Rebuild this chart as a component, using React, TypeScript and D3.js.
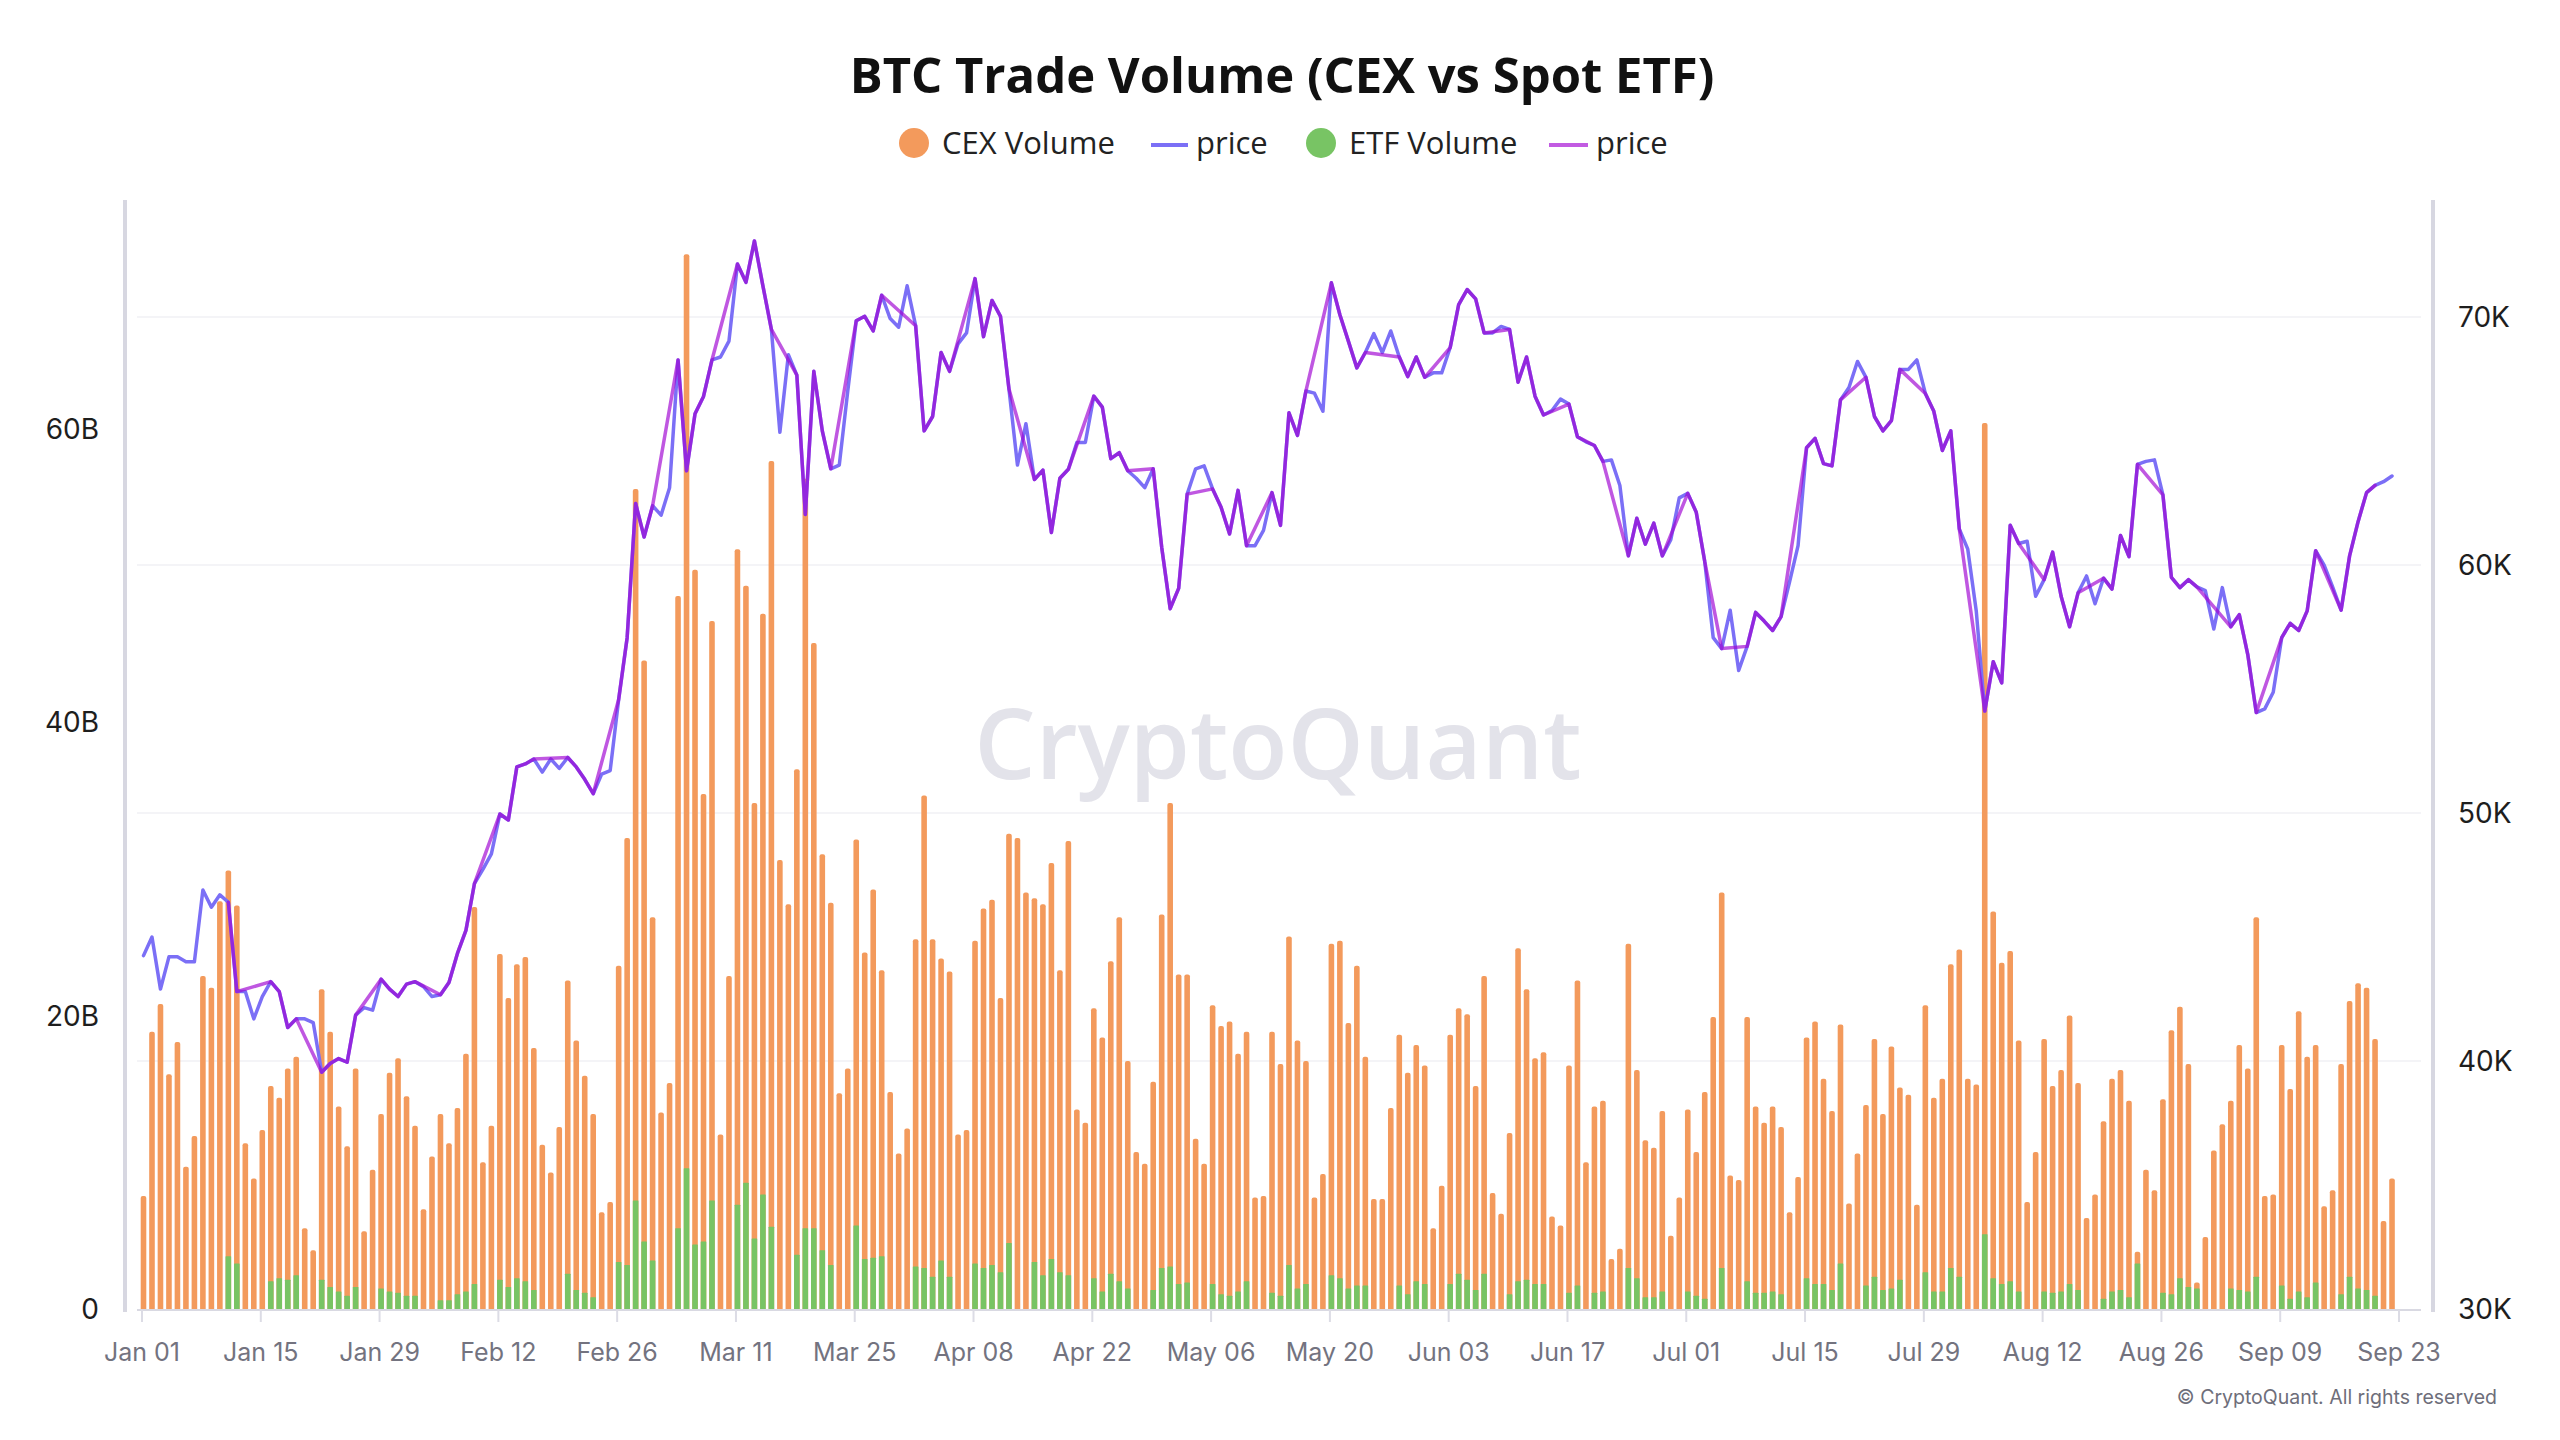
import React from "react";
import * as d3 from "d3";

// ---------- DATA ----------
const START_DATE = "2024-01-01";

// CEX daily trade volume, billions USD (Jan 01 .. Sep 22, 2024)
const cexVolume: number[] = [
  7.7, 18.9, 20.8, 16.0, 18.2, 9.7, 11.8, 22.7, 21.9, 27.8,
  29.9, 27.5, 11.3, 8.9, 12.2, 15.2, 14.4, 16.4, 17.2, 5.5,
  4.0, 21.8, 18.9, 13.8, 11.1, 16.4, 5.3, 9.5, 13.3, 16.1,
  17.1, 14.5, 12.5, 6.8, 10.4, 13.3, 11.3, 13.7, 17.4, 27.4,
  10.0, 12.5, 24.2, 21.2, 23.5, 24.0, 17.8, 11.2, 9.3, 12.4,
  22.4, 18.3, 15.9, 13.3, 6.6, 7.3, 23.4, 32.1, 55.9, 44.2,
  26.7, 13.4, 15.4, 48.6, 71.9, 50.4, 35.1, 46.9, 11.9, 22.7,
  51.8, 49.3, 34.5, 47.4, 57.8, 30.6, 27.6, 36.8, 56.6, 45.4,
  31.0, 27.7, 14.7, 16.4, 32.0, 24.3, 28.6, 23.1, 14.8, 10.6,
  12.3, 25.2, 35.0, 25.2, 23.9, 23.0, 11.9, 12.2, 25.1, 27.3,
  27.9, 21.2, 32.4, 32.1, 28.4, 28.0, 27.6, 30.4, 23.1, 31.9,
  13.6, 12.7, 20.5, 18.5, 23.7, 26.7, 16.9, 10.7, 9.9, 15.5,
  26.9, 34.5, 22.8, 22.8, 11.6, 9.9, 20.7, 19.3, 19.6, 17.4,
  18.9, 7.6, 7.7, 18.9, 16.7, 25.4, 18.3, 16.9, 7.6, 9.2,
  24.9, 25.1, 19.5, 23.4, 17.2, 7.5, 7.5, 13.7, 18.7, 16.1,
  18.0, 16.6, 5.5, 8.4, 18.7, 20.5, 20.1, 15.2, 22.7, 7.9,
  6.5, 12.0, 24.6, 21.8, 17.1, 17.5, 6.3, 5.7, 16.6, 22.4,
  10.0, 13.8, 14.2, 3.4, 4.1, 24.9, 16.3, 11.5, 11.0, 13.5,
  5.0, 7.6, 13.6, 10.7, 14.8, 19.9, 28.4, 9.1, 8.8, 19.9,
  13.8, 12.7, 13.8, 12.4, 6.6, 9.0, 18.5, 19.6, 15.7, 13.5,
  19.4, 7.2, 10.6, 13.9, 18.4, 13.3, 17.9, 15.1, 14.6, 7.1,
  20.7, 14.4, 15.7, 23.5, 24.5, 15.7, 15.3, 60.4, 27.1, 23.6,
  24.4, 18.3, 7.3, 10.7, 18.4, 15.2, 16.3, 20.0, 15.4, 6.2,
  7.8, 12.8, 15.7, 16.3, 14.2, 3.9, 9.5, 8.1, 14.3, 19.0,
  20.6, 16.7, 1.8, 4.9, 10.8, 12.6, 14.2, 18.0, 16.4, 26.7,
  7.7, 7.8, 18.0, 15.0, 20.3, 17.2, 18.0, 7.0, 8.1, 16.7,
  21.0, 22.2, 21.9, 18.4, 6.0, 8.9,
];

// Spot ETF daily volume, billions USD (null = no trading day)
const N = null;
const etfVolume: (number | null)[] = [
  N, N, N, N, N, N, N, N, N, N,
  3.6, 3.1, N, N, N, 1.9, 2.1, 2.0, 2.3, N,
  N, 2.0, 1.5, 1.2, 0.9, 1.5, N, N, 1.4, 1.2,
  1.1, 0.9, 0.9, N, N, 0.6, 0.6, 1.0, 1.2, 1.7,
  N, N, 2.0, 1.5, 2.1, 1.9, 1.3, N, N, N,
  2.4, 1.3, 1.1, 0.8, N, N, 3.2, 3.0, 7.4, 4.6,
  3.3, N, N, 5.5, 9.6, 4.4, 4.6, 7.4, N, N,
  7.1, 8.6, 4.8, 7.8, 5.6, N, N, 3.7, 5.5, 5.5,
  4.0, 3.0, N, N, 5.7, 3.4, 3.5, 3.6, N, N,
  N, 2.9, 2.8, 2.2, 3.3, 2.2, N, N, 3.1, 2.8,
  3.0, 2.5, 4.5, N, N, 3.2, 2.3, 3.4, 2.5, 2.3,
  N, N, 2.1, 1.2, 2.4, 1.9, 1.4, N, N, 1.3,
  2.8, 2.9, 1.7, 1.8, N, N, 1.7, 1.0, 0.9, 1.2,
  1.9, N, N, 1.1, 0.9, 3.0, 1.4, 1.7, N, N,
  2.3, 2.1, 1.4, 1.6, 1.6, N, N, N, 1.6, 1.0,
  1.9, 1.7, N, N, 1.7, 2.4, 2.0, 1.3, 2.4, N,
  N, 1.0, 1.9, 2.0, 1.7, 1.7, N, N, 1.1, 1.6,
  N, 1.1, 1.2, N, N, 2.8, 2.1, 0.8, 0.8, 1.2,
  N, N, 1.2, 0.9, 0.7, N, 2.8, N, N, 1.9,
  1.1, 1.1, 1.2, 1.0, N, N, 2.1, 1.7, 1.7, 1.3,
  3.1, N, N, 1.6, 2.2, 1.3, 1.4, 2.0, N, N,
  2.5, 1.2, 1.2, 2.8, 2.2, N, N, 5.1, 2.1, 1.7,
  1.9, 1.2, N, N, 1.2, 1.1, 1.2, 1.7, 1.3, N,
  N, 0.7, 1.2, 1.3, 0.8, 3.1, N, N, 1.1, 1.0,
  2.1, 1.5, 1.4, N, N, N, 1.4, 1.3, 1.2, 2.2,
  N, N, 1.6, 0.7, 1.2, 0.8, 1.8, N, N, 1.0,
  2.2, 1.4, 1.3, 0.9, N, N,
];

// BTC price, thousands USD (daily)
const btcPrice: number[] = [
  44.25, 45.0, 42.9, 44.2, 44.2, 44.0, 44.0, 46.9, 46.2, 46.7,
  46.4, 42.8, 42.8, 41.7, 42.6, 43.2, 42.8, 41.35, 41.7, 41.7,
  41.55, 39.55, 39.9, 40.1, 39.95, 41.85, 42.15, 42.05, 43.3, 42.9,
  42.6, 43.1, 43.2, 43.0, 42.6, 42.67, 43.17, 44.34, 45.27, 47.15,
  47.73, 48.35, 49.96, 49.72, 51.86, 51.98, 52.18, 51.65, 52.18, 51.8,
  52.24, 51.86, 51.36, 50.78, 51.57, 51.71, 54.58, 57.07, 62.48, 61.13,
  62.39, 62.01, 63.12, 68.27, 63.8, 66.1, 66.8, 68.27, 68.39, 69.03,
  72.14, 71.4, 73.07, 71.26, 69.5, 65.35, 68.48, 67.66, 62.04, 67.81,
  65.41, 63.88, 64.03, 67.02, 69.85, 70.03, 69.44, 70.88, 69.94, 69.59,
  71.26, 69.65, 65.41, 65.99, 68.57, 67.81, 68.92, 69.36, 71.55, 69.21,
  70.67, 70.03, 67.1, 64.03, 65.7, 63.45, 63.83, 61.31, 63.5, 63.86,
  64.94, 64.94, 66.81, 66.37, 64.29, 64.53, 63.8, 63.5, 63.12, 63.88,
  60.72, 58.24, 59.06, 62.86, 63.88, 64.0, 63.07, 62.33, 61.25, 63.01,
  60.78, 60.78, 61.4, 62.92, 61.6, 66.14, 65.23, 67.02, 66.93, 66.2,
  71.38, 70.09, 69.03, 67.95, 68.57, 69.33, 68.57, 69.44, 68.39, 67.6,
  68.39, 67.57, 67.75, 67.75, 68.77, 70.5, 71.11, 70.73, 69.36, 69.36,
  69.62, 69.5, 67.37, 68.39, 66.81, 66.05, 66.23, 66.69, 66.49, 65.17,
  64.97, 64.82, 64.18, 64.24, 63.21, 60.37, 61.89, 60.84, 61.69, 60.37,
  61.02, 62.71, 62.89, 62.13, 60.14, 57.07, 56.63, 58.18, 55.75, 56.72,
  58.09, 57.74, 57.36, 57.92, 59.32, 60.78, 64.73, 65.11, 64.09, 64.0,
  66.66, 67.16, 68.21, 67.57, 65.99, 65.41, 65.82, 67.89, 67.89, 68.27,
  66.92, 66.2, 64.62, 65.41, 61.46, 60.64, 58.15, 54.11, 56.1, 55.25,
  61.6, 60.87, 60.96, 58.74, 59.41, 60.52, 58.74, 57.51, 58.88, 59.56,
  58.44, 59.47, 59.03, 61.19, 60.34, 64.06, 64.18, 64.24, 62.83, 59.5,
  59.09, 59.41, 59.12, 58.97, 57.42, 59.09, 57.51, 58.0, 56.39, 54.05,
  54.2, 54.87, 57.07, 57.65, 57.36, 58.15, 60.58, 60.0, 59.12, 58.18,
  60.37, 61.75, 62.92, 63.21, 63.36, 63.59,
];

const xTickLabels = [
  "Jan 01", "Jan 15", "Jan 29", "Feb 12", "Feb 26", "Mar 11", "Mar 25",
  "Apr 08", "Apr 22", "May 06", "May 20", "Jun 03", "Jun 17", "Jul 01",
  "Jul 15", "Jul 29", "Aug 12", "Aug 26", "Sep 09", "Sep 23",
];
const xTickStepDays = 14;
const leftTicks = [0, 20, 40, 60];
const leftTickLabels = ["0", "20B", "40B", "60B"];
const rightTicks = [30, 40, 50, 60, 70];
const rightTickLabels = ["30K", "40K", "50K", "60K", "70K"];

// ---------- STYLE ----------
const ORANGE = "#f39a5c";
const GREEN = "#78c464";
const BLUE = "#7b6ff6";
const PURPLE = "#a005d3";
const FONT_MAIN = "'Open Sans', 'Noto Sans', sans-serif";
const FONT_AXIS = "Inter, 'Noto Sans', sans-serif";

function barPath(cx: number, yTop: number, yBase: number, w: number, r: number) {
  const x0 = cx - w / 2;
  const x1 = cx + w / 2;
  const rr = Math.max(0, Math.min(r, (yBase - yTop) / 2, w / 2));
  return `M${x0},${yBase}V${yTop + rr}Q${x0},${yTop} ${x0 + rr},${yTop}H${x1 - rr}Q${x1},${yTop} ${x1},${yTop + rr}V${yBase}Z`;
}

export default function App() {
  const W = 2560;
  const H = 1440;
  const plotLeft = 137;
  const plotRight = 2421;
  const plotTop = 200;
  const plotBottom = 1309;

  const start = d3.utcParse("%Y-%m-%d")(START_DATE) as Date;
  const dates = cexVolume.map((_, i) => d3.utcDay.offset(start, i));
  const x = d3
    .scaleUtc()
    .domain([start, d3.utcDay.offset(start, (xTickLabels.length - 1) * xTickStepDays)])
    .range([142, 2399]);
  const yL = d3.scaleLinear().domain([0, 75.6]).range([plotBottom, plotTop]);
  const yR = d3.scaleLinear().domain([30, 74.72]).range([plotBottom, plotTop]);

  const bx = (i: number) => x(dates[i]) + 1.5;
  const barW = 5.6;

  const lineGen = d3
    .line<[number, number]>()
    .x((d) => d[0])
    .y((d) => d[1]);

  const pricePts: [number, number][] = btcPrice.map((p, i) => [bx(i), yR(p)]);
  const etfPts: [number, number][] = btcPrice
    .map((p, i) => (etfVolume[i] != null ? ([bx(i), yR(p)] as [number, number]) : null))
    .filter((d): d is [number, number] => d !== null);

  const tickDates = xTickLabels.map((_, k) => d3.utcDay.offset(start, k * xTickStepDays));

  return (
    <svg
      width={W}
      height={H}
      viewBox={`0 0 ${W} ${H}`}
      style={{ position: "absolute", left: 0, top: 0, background: "#fff" }}
    >
      <rect x={0} y={0} width={W} height={H} fill="#ffffff" />

      {/* Title */}
      <text
        x={1282}
        y={93}
        textAnchor="middle"
        fontFamily={FONT_MAIN}
        fontWeight={700}
        fontSize={49}
        fill="#111"
      >
        BTC Trade Volume (CEX vs Spot ETF)
      </text>

      {/* Legend */}
      <g fontFamily={FONT_MAIN} fontSize={31} fill="#222">
        <circle cx={914} cy={143} r={15} fill={ORANGE} />
        <text x={942} y={154}>CEX Volume</text>
        <line x1={1151} x2={1188} y1={145} y2={145} stroke={BLUE} strokeWidth={4} />
        <text x={1196} y={154}>price</text>
        <circle cx={1321} cy={143} r={15} fill={GREEN} />
        <text x={1349} y={154}>ETF Volume</text>
        <line x1={1549} x2={1588} y1={145} y2={145} stroke="#c25be2" strokeWidth={4} />
        <text x={1596} y={154}>price</text>
      </g>

      {/* Watermark */}
      <text
        x={1278}
        y={779}
        textAnchor="middle"
        fontFamily={FONT_MAIN}
        fontWeight={600}
        fontSize={97}
        fill="#e3e3ea"
      >
        CryptoQuant
      </text>

      {/* Gridlines (right axis) */}
      {rightTicks.slice(1).map((t) => (
        <line
          key={t}
          x1={plotLeft}
          x2={plotRight}
          y1={yR(t)}
          y2={yR(t)}
          stroke="#f1f1f4"
          strokeWidth={1.5}
        />
      ))}

      {/* Axis lines */}
      <line x1={125} x2={125} y1={plotTop} y2={plotBottom + 3} stroke="#d7d7e1" strokeWidth={4} />
      <line x1={2433} x2={2433} y1={plotTop} y2={plotBottom + 3} stroke="#d7d7e1" strokeWidth={4} />

      {/* CEX bars */}
      {cexVolume.map((v, i) => (
        <path key={"c" + i} d={barPath(bx(i), yL(v), yL(0), barW, 2)} fill={ORANGE} />
      ))}
      {/* ETF bars */}
      {etfVolume.map((v, i) =>
        v == null ? null : (
          <path key={"e" + i} d={barPath(bx(i), yL(v), yL(0), barW, 0.5)} fill={GREEN} />
        )
      )}

      {/* Baseline and x ticks */}
      <line x1={plotLeft} x2={plotRight} y1={plotBottom + 1} y2={plotBottom + 1} stroke="#d9d9e2" strokeWidth={2} />
      {tickDates.map((d, k) => (
        <line
          key={"t" + k}
          x1={x(d)}
          x2={x(d)}
          y1={plotBottom + 1}
          y2={plotBottom + 13}
          stroke="#dcdce5"
          strokeWidth={2}
        />
      ))}

      {/* Price lines */}
      <path
        d={lineGen(pricePts) || ""}
        fill="none"
        stroke={BLUE}
        strokeWidth={3.5}
        strokeLinejoin="round"
        strokeLinecap="round"
      />
      <path
        d={lineGen(etfPts) || ""}
        fill="none"
        stroke={PURPLE}
        strokeOpacity={0.67}
        strokeWidth={3.5}
        strokeLinejoin="round"
        strokeLinecap="round"
      />

      {/* Axis labels */}
      <g fontFamily={FONT_AXIS} fontSize={28} fill="#1e1e1e">
        {leftTicks.map((t, k) => (
          <text key={"l" + t} x={99} y={yL(t) + 10} textAnchor="end">
            {leftTickLabels[k]}
          </text>
        ))}
        {rightTicks.map((t, k) => (
          <text key={"r" + t} x={2458} y={yR(t) + 10} textAnchor="start">
            {rightTickLabels[k]}
          </text>
        ))}
      </g>

      {/* X labels */}
      <g fontFamily={FONT_AXIS} fontSize={25} fill="#73737f">
        {tickDates.map((d, k) => (
          <text key={"xl" + k} x={x(d)} y={1361} textAnchor="middle">
            {xTickLabels[k]}
          </text>
        ))}
      </g>

      {/* Copyright */}
      <text
        x={2497}
        y={1404}
        textAnchor="end"
        fontFamily={FONT_AXIS}
        fontSize={19.5}
        fill="#6e6e7a"
      >
        © CryptoQuant. All rights reserved
      </text>
    </svg>
  );
}
